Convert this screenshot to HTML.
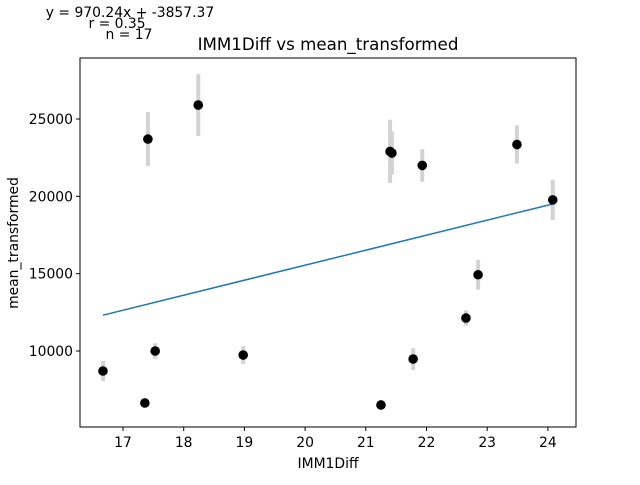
<!DOCTYPE html>
<html><head><meta charset="utf-8"><style>
body{margin:0;background:#fff;}
svg{font-family:"DejaVu Sans","Liberation Sans",sans-serif;}
</style></head><body>
<svg id="chart" width="640" height="480" xmlns="http://www.w3.org/2000/svg">
<rect width="640" height="480" fill="#fff"/>
<text x="130" y="17" font-size="13.9" text-anchor="middle">y = 970.24x + -3857.37</text>
<text x="117" y="28" font-size="13.9" text-anchor="middle">r = 0.35</text>
<text x="129" y="39" font-size="13.9" text-anchor="middle">n = 17</text>
<text x="328" y="50" font-size="16.7" text-anchor="middle">IMM1Diff vs mean_transformed</text>
<g id="plot"></g>
<rect x="80" y="58" width="496" height="369" fill="none" stroke="#000" stroke-width="1"/>
<text x="328" y="468" font-size="13.9" text-anchor="middle">IMM1Diff</text>
<text x="18" y="243" font-size="13.9" text-anchor="middle" transform="rotate(-90 18 243)">mean_transformed</text>
</svg>
<script>
const xValues=[16.67,17.36,17.41,17.53,18.24,18.98,21.25,21.40,21.43,21.78,21.93,22.65,22.85,23.49,24.08];
const yValues=[8707,6640,23700,10000,25900,9740,6510,22900,22800,9480,22000,12130,14930,23350,19770];
const yErrors=[650,260,1750,500,2000,580,200,2050,1400,700,1050,500,970,1230,1300];
const xTicks=[17,18,19,20,21,22,23,24];
const yTicks=[10000,15000,20000,25000];
const slope=970.24, intercept=-3857.37;
const NS='http://www.w3.org/2000/svg';
const sx=v=>123+(v-17)*60.7;
const sy=v=>351-(v-10000)*0.015467;
const g=document.getElementById('plot');
function mk(t,a){const e=document.createElementNS(NS,t);for(const k in a)e.setAttribute(k,a[k]);g.appendChild(e);return e;}
xTicks.forEach(t=>{
 const l=mk('line',{x1:sx(t),x2:sx(t),y1:427,y2:431,stroke:'#000'});
 
 
 const s=mk('text',{x:sx(t),y:447,'font-size':13.9,'text-anchor':'middle'});s.textContent=t;
 
 
});
yTicks.forEach(t=>{
 const l=mk('line',{x1:76,x2:80,y1:sy(t),y2:sy(t),stroke:'#000'});
 
 
 const s=mk('text',{x:73,y:sy(t)+5,'font-size':13.9,'text-anchor':'end'});s.textContent=t;
 
 
});
xValues.forEach((x,i)=>{
 const e=mk('line',{x1:sx(x),x2:sx(x),y1:sy(yValues[i]-yErrors[i]),y2:sy(yValues[i]+yErrors[i]),stroke:'#d3d3d3','stroke-width':4});
 
 
});
const xmin=Math.min(...xValues),xmax=Math.max(...xValues);
const rl=mk('line',{x1:sx(xmin),x2:sx(xmax),y1:sy(slope*xmin+intercept),y2:sy(slope*xmax+intercept),stroke:'#1f77b4','stroke-width':1.5});


xValues.forEach((x,i)=>{
 const c=mk('circle',{cx:sx(x),cy:sy(yValues[i]),r:4.8,fill:'#000'});
 
 
});
</script>
</body></html>
